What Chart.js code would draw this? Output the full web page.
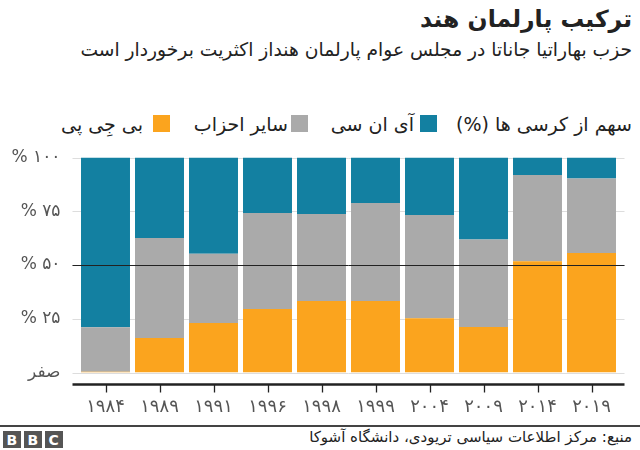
<!DOCTYPE html>
<html lang="fa">
<head>
<meta charset="utf-8">
<script src="https://cdn.jsdelivr.net/npm/chart.js@4"></script>
<style>
  body { margin: 0; width: 640px; height: 450px; background: #fff; overflow: hidden; position: relative;
         font-family: "DejaVu Sans", sans-serif; color: #222; }
  #title { position: absolute; right: 8px; top: 5px; font-size: 23.5px; font-weight: bold; direction: rtl; white-space: nowrap; }
  #subtitle { position: absolute; right: 8px; top: 39px; font-size: 18.7px; direction: rtl; white-space: nowrap; }
  #legend { position: absolute; left: 0; top: 112px; width: 640px; height: 24px; font-size: 19px; white-space: nowrap; }
  #legend span { position: absolute; top: 0; line-height: 24px; direction: rtl; }
  #legend .box { width: 17px; height: 17px; top: 3px; }
  #chartBox { position: absolute; left: 0; top: 140px; width: 640px; height: 280px; }
  #rule { position: absolute; left: 0; top: 425px; width: 640px; height: 1.5px; background: #444; }
  #logo { position: absolute; left: 3px; top: 431px; display: flex; gap: 3.5px; }
  #logo span { width: 17.5px; height: 17px; background: #555; color: #fff; font: bold 14px "DejaVu Sans", sans-serif;
               display: flex; align-items: center; justify-content: center; }
  #source { position: absolute; right: 8px; top: 428px; font-size: 15px; direction: rtl; white-space: nowrap; }
</style>
</head>
<body>
<div id="title">ترکیب پارلمان هند</div>
<div id="subtitle">حزب بهاراتیا جاناتا در مجلس عوام پارلمان هنداز اکثریت برخوردار است</div>
<div id="legend">
  <span style="right:8px">سهم از کرسی ها (%)</span>
  <span class="box" id="lgBox2" style="left:420px"></span>
  <span id="lgText2" style="right:226px"></span>
  <span class="box" id="lgBox1" style="left:291px"></span>
  <span id="lgText1" style="right:352px"></span>
  <span class="box" id="lgBox0" style="left:153px"></span>
  <span id="lgText0" style="right:497px"></span>
</div>
<div id="chartBox"><canvas id="seatChart"></canvas></div>
<div id="rule"></div>
<div id="logo"><span>B</span><span>B</span><span>C</span></div>
<div id="source">منبع: مرکز اطلاعات سیاسی تریودی، دانشگاه آشوکا</div>

<script>
// سال‌های انتخابات
const years = ['۱۹۸۴', '۱۹۸۹', '۱۹۹۱', '۱۹۹۶', '۱۹۹۸', '۱۹۹۹', '۲۰۰۴', '۲۰۰۹', '۲۰۱۴', '۲۰۱۹'];

// سهم کرسی‌ها (درصد)
const bjpShare    = [0.4, 16.0, 23.0, 29.5, 33.3, 33.3, 25.2, 21.2, 51.7, 55.6];
const othersShare = [20.6, 46.6, 32.2, 44.7, 40.4, 45.5, 48.1, 40.7, 40.2, 34.6];
const incShare    = [79.0, 37.4, 44.8, 25.8, 26.3, 21.2, 26.7, 38.1, 8.1, 9.8];

const yTicks = [0, 25, 50, 75, 100];

const series = [
    { label: 'بی جِی پی', data: bjpShare, color: '#fba41e' },
    { label: 'سایر احزاب', data: othersShare, color: '#aaaaaa' },
    { label: 'آی ان سی', data: incShare, color: '#1380a1' }
];

// لجند
series.forEach((s, i) => {
    document.getElementById('lgBox' + i).style.background = s.color;
    document.getElementById('lgText' + i).textContent = s.label;
});

const faDigits = '۰۱۲۳۴۵۶۷۸۹';
const toFa = n => String(n).replace(/\d/g, d => faDigits[d]);

// خطوط شبکه، خط ۵۰٪ و محور افقی
const bbcAxes = {
    id: 'bbcAxes',
    beforeDatasetsDraw(chart) {
        const { ctx, chartArea, scales } = chart;
        ctx.save();
        ctx.strokeStyle = '#dddddd';
        ctx.lineWidth = 1;
        yTicks.forEach(v => {
            const py = Math.round(scales.y.getPixelForValue(v)) + 0.5;
            ctx.beginPath();
            ctx.moveTo(chartArea.left - 6, py);
            ctx.lineTo(chartArea.right + 6, py);
            ctx.stroke();
        });
        ctx.restore();
    },
    afterDatasetsDraw(chart) {
        const { ctx, chartArea, scales } = chart;
        ctx.save();
        const mid = Math.round(scales.y.getPixelForValue(50)) + 0.5;
        ctx.strokeStyle = '#222';
        ctx.lineWidth = 1;
        ctx.beginPath();
        ctx.moveTo(chartArea.left - 6, mid);
        ctx.lineTo(chartArea.right + 6, mid);
        ctx.stroke();

        const base = chartArea.bottom + 12;
        ctx.lineWidth = 2.5;
        ctx.beginPath();
        ctx.moveTo(chartArea.left - 6, base);
        ctx.lineTo(chartArea.right + 6, base);
        ctx.stroke();

        ctx.lineWidth = 1.3;
        years.forEach((_, i) => {
            const px = Math.round(scales.x.getPixelForValue(i)) + 0.5;
            ctx.beginPath();
            ctx.moveTo(px, base);
            ctx.lineTo(px, base + 8);
            ctx.stroke();
        });
        ctx.restore();
    }
};

new Chart(document.getElementById('seatChart'), {
    type: 'bar',
    data: {
        labels: years,
        datasets: series.map(s => ({
            label: s.label,
            data: s.data,
            backgroundColor: s.color,
            borderWidth: 0,
            barPercentage: 0.907,
            categoryPercentage: 1
        }))
    },
    options: {
        responsive: true,
        maintainAspectRatio: false,
        animation: false,
        layout: { autoPadding: false, padding: { left: 0, right: 21.5, top: 17.5, bottom: 0 } },
        plugins: {
            legend: { display: false },
            tooltip: { enabled: false }
        },
        scales: {
            x: {
                stacked: true,
                grid: { display: false, drawTicks: false },
                border: { display: false },
                ticks: {
                    color: '#555',
                    font: { family: 'DejaVu Sans', size: 18 },
                    padding: 24,
                    maxRotation: 0
                },
                afterFit: s => { s.height = 47.5; s.paddingLeft = 0; s.paddingRight = 0; }
            },
            y: {
                stacked: true,
                min: 0,
                max: 100,
                grid: { display: false, drawTicks: false },
                border: { display: false },
                afterBuildTicks: s => { s.ticks = yTicks.map(v => ({ value: v })); },
                ticks: {
                    color: '#555',
                    font: { family: 'DejaVu Sans', size: 17 },
                    padding: 18,
                    callback: v => v === 0 ? 'صفر' : '% ' + toFa(v)
                },
                afterFit: s => { s.width = 78.5; s.paddingTop = 0; s.paddingBottom = 0; }
            }
        }
    },
    plugins: [bbcAxes]
});
</script>
</body>
</html>
